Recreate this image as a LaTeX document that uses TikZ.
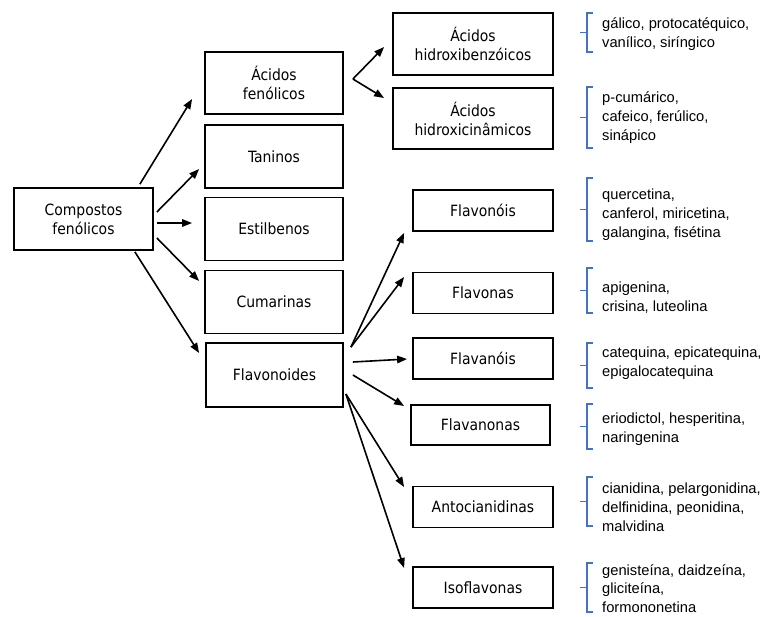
\documentclass[tikz,border=0pt]{standalone}
\usepackage{fontspec}
\setmainfont{DejaVu Sans Condensed}
\newfontfamily\arialfont{Liberation Sans}
\usetikzlibrary{calc,arrows.meta,positioning}
\definecolor{azul}{RGB}{68,114,196}
\newcommand{\chave}[2]{
\draw [azul,line width=1.1pt] (593,#1) -- (587,#1) -- (587,#2) -- (593,#2);
\draw [azul,line width=1.1pt] (580,{(#1+#2)/2}) -- (587,{(#1+#2)/2});
}
\begin{document}
\begin{tikzpicture}[x=1pt,y=-1pt,
  caixa/.style={draw,line width=1.8pt,align=center,inner sep=0pt,font=\fontsize{15.5}{19}\selectfont},
  lista/.style={anchor=west,align=left,inner sep=0pt,font=\arialfont\fontsize{14.7}{19}\selectfont},
  seta/.style={-{Triangle[length=10pt,width=7.5pt]},line width=1.6pt}]

\useasboundingbox (0,0) rectangle (762,616);

% primeira coluna
\node (comp) [caixa,minimum width=139pt,minimum height=62pt] at (83.5,219) {Compostos\\fenólicos};

% segunda coluna
\node (acf) [caixa,minimum width=138pt,minimum height=62pt] at (274,83) {Ácidos\\fenólicos};
\node (tan) [caixa,minimum width=138pt,minimum height=63pt] at (274,156.5) {Taninos};
\node (est) [caixa,minimum width=138pt,minimum height=63pt] at (274,229) {Estilbenos};
\node (cum) [caixa,minimum width=138pt,minimum height=63pt] at (274,302) {Cumarinas};
\node (flv) [caixa,minimum width=137pt,minimum height=64pt] at (274.5,375) {Flavonoides};

% terceira coluna
\node (ahb) [caixa,minimum width=160pt,minimum height=62pt] at (473,44) {Ácidos\\hidroxibenzóicos};
\node (ahc) [caixa,minimum width=160pt,minimum height=61pt] at (473,118.5) {Ácidos\\hidroxicinâmicos};
\node (fol) [caixa,minimum width=140pt,minimum height=41pt] at (483,210.5) {Flavonóis};
\node (fon) [caixa,minimum width=140pt,minimum height=41pt] at (483,293) {Flavonas};
\node (fan) [caixa,minimum width=140pt,minimum height=41pt] at (483,358.5) {Flavanóis};
\node (fnn) [caixa,minimum width=139pt,minimum height=40pt] at (480.5,425) {Flavanonas};
\node (ant) [caixa,minimum width=140pt,minimum height=41pt] at (483,507) {Antocianidinas};
\node (iso) [caixa,minimum width=140pt,minimum height=41pt] at (483,587.5) {Isoflavonas};

% exemplos
\chave{13}{52}
\node (l1) [lista] at (602,34) {gálico, protocatéquico,\\vanílico, siríngico};
\chave{87}{148}
\node (l2) [lista] at (602,118) {p-cumárico,\\cafeico, ferúlico,\\sinápico};
\chave{178}{241}
\node (l3) [lista] at (602,215) {quercetina,\\canferol, miricetina,\\galangina, fisétina};
\chave{268}{313}
\node (l4) [lista] at (602,297.5) {apigenina,\\crisina, luteolina};
\chave{343}{388}
\node (l5) [lista] at (602,363.5) {catequina, epicatequina,\\epigalocatequina};
\chave{404}{449}
\node (l6) [lista] at (602,429.5) {eriodictol, hesperitina,\\naringenina};
\chave{477}{526}
\node (l7) [lista] at (602,507) {cianidina, pelargonidina,\\delfinidina, peonidina,\\malvidina};
\chave{563}{612}
\node (l8) [lista,font=\arialfont\fontsize{14.7}{18.5}\selectfont] at (602,588.5) {genisteína, daidzeína,\\gliciteína,\\formononetina};

% setas
\coordinate (bif) at ($(acf.east)+(9,-4)$);
\coordinate (fa) at ($(flv.north east)+(7,5)$);
\coordinate (fb) at ($(flv.east)+(2,19)$);

\draw [seta] ($(comp.north east)+(-14,-3)$) -- ($(acf.west)+(-12,16)$);
\draw [seta] ($(comp.east)+(3,-7)$) -- ($(tan.west)+(-5,12.5)$);
\draw [seta] ($(comp.east)+(3,4)$) -- ($(est.west)+(-12,-6)$);
\draw [seta] ($(comp.east)+(3,19)$) -- ($(cum.west)+(-5,-21)$);
\draw [seta] ($(comp.south east)+(-19,1)$) -- ($(flv.west)+(-6,-22)$);

\draw [seta] (bif) -- ($(ahb.west)+(-8,3)$);
\draw [seta] (bif) -- ($(ahc.west)+(-8,-20.5)$);

\draw [seta] (fa) -- ($(fol.south west)+(-8,1)$);
\draw [seta] (fa) -- ($(fon.west)+(-8,-16)$);
\draw [seta] ($(flv.east)+(9,-13)$) -- ($(fan.west)+(-5,0.5)$);
\draw [seta] ($(flv.east)+(9,0)$) -- ($(fnn.west)+(-6,-19)$);
\draw [seta] (fb) -- ($(ant.west)+(-8,-20)$);
\draw [seta] (fb) -- ($(iso.west)+(-8,-19.5)$);

\end{tikzpicture}
\end{document}
